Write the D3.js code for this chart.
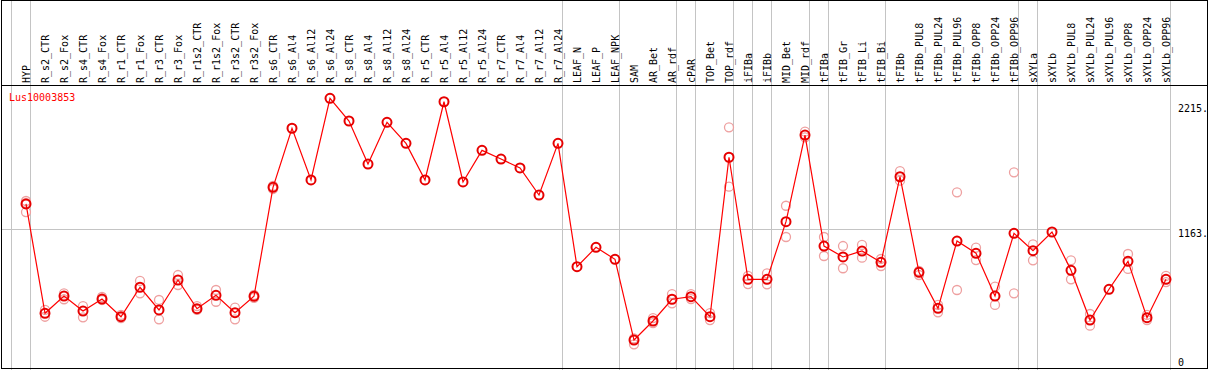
<!DOCTYPE html>
<html>
<head>
<meta charset="utf-8" />
<title>Lus10003853 expression profile</title>
<script src="https://cdn.jsdelivr.net/npm/d3@7"></script>
<style>
  body { margin: 0; padding: 0; background: #fff; }
  svg { display: block; }
  text { font-family: "DejaVu Sans Mono", monospace; font-size: 10px; }
  .frame { stroke: #000; stroke-width: 1; fill: none; shape-rendering: crispEdges; }
  .sep { stroke: #c4c4c4; stroke-width: 1; shape-rendering: crispEdges; }
  .mean-line { stroke: #f00; stroke-width: 1.2; fill: none; }
  .rep { stroke: #eea0a0; stroke-width: 1.3; fill: none; }
  .mean { stroke: #e60000; stroke-width: 2; fill: none; }
</style>
</head>
<body>
<svg id="chart" width="1209" height="370"></svg>
<script>
// sample names, left to right
var samples = ["HYP","R_s2_CTR","R_s2_Fox","R_s4_CTR","R_s4_Fox","R_r1_CTR","R_r1_Fox",
  "R_r3_CTR","R_r3_Fox","R_r1s2_CTR","R_r1s2_Fox","R_r3s2_CTR","R_r3s2_Fox","R_s6_CTR",
  "R_s6_Al4","R_s6_Al12","R_s6_Al24","R_s8_CTR","R_s8_Al4","R_s8_Al12","R_s8_Al24",
  "R_r5_CTR","R_r5_Al4","R_r5_Al12","R_r5_Al24","R_r7_CTR","R_r7_Al4","R_r7_Al12","R_r7_Al24",
  "LEAF_N","LEAF_P","LEAF_NPK","SAM","AR_Bet","AR_rdf","cPAR","TOP_Bet","TOP_rdf",
  "iFIBa","iFIBb","MID_Bet","MID_rdf","tFIBa","tFIB_Gr","tFIB_Li","tFIB_Bi",
  "tFIBb","tFIBb_PUL8","tFIBb_PUL24","tFIBb_PUL96","tFIBb_OPP8","tFIBb_OPP24","tFIBb_OPP96",
  "sXYLa","sXYLb","sXYLb_PUL8","sXYLb_PUL24","sXYLb_PUL96","sXYLb_OPP8","sXYLb_OPP24","sXYLb_OPP96"];

// first sample of each group (a grey separator is drawn before it)
var groupStarts = ["HYP","R_s2_CTR","LEAF_N","SAM","cPAR","TOP_Bet","iFIBa","iFIBb",
  "MID_Bet","tFIBa","tFIB_Gr","tFIBb","sXYLa","sXYLb"];

var geneName = "Lus10003853";

// mean expression per sample
var means = [1372,452,597,471,572,423,671,480,732,491,603,457,595,1512,
  2009,1574,2261,2070,1708,2059,1882,1574,2232,1557,1823,1750,1675,1447,1882,
  844,1007,906,227,387,570,592,423,1765,738,738,1223,1952,1018,926,976,881,
  1601,797,494,1060,957,597,1125,979,1136,814,395,654,889,415,738];

// replicate values (null = hidden under the mean marker)
var rep1 = [1397,480,620,513,589,438,724,564,774,513,648,499,606,1523,
  null,null,null,null,null,null,null,null,null,null,null,null,null,null,null,
  null,null,null,191,412,614,614,454,2017,766,788,1357,1980,1094,1018,1027,909,
  1649,808,522,1470,1004,676,1638,1032,null,898,446,null,951,438,766];
var rep2 = [1304,423,570,418,564,412,620,401,690,480,549,401,581,1498,
  null,null,null,null,null,null,null,null,null,null,null,null,null,null,null,
  null,null,null,240,370,536,572,395,1517,698,696,1094,1933,934,831,920,850,
  1568,774,460,648,900,522,620,898,null,738,348,null,825,395,715];
var rep3 = [1380];

// axis labels on the right
var yTicks = [2215, 1163, 0];
var yMax = 2373;

var svg = d3.select("#chart");
var W = 1209, H = 370;
var headerY = 85, plotBottom = 367, plotRight = 1170;

var x = d3.scaleBand()
    .domain(samples)
    .range([11, plotRight]);
var xc = function(s) { return x(s) + 15; };

var y = d3.scaleLinear()
    .domain([0, yMax])
    .range([plotBottom, headerY]);

// grid line
svg.append("line")
    .attr("class", "sep")
    .attr("x1", 1).attr("x2", plotRight)
    .attr("y1", Math.round(y(yTicks[1])) + 0.5).attr("y2", Math.round(y(yTicks[1])) + 0.5);

// group separators, full height
var seps = groupStarts.map(function(s) { return x(s) - 0.5; }).concat([plotRight]);
svg.selectAll("line.vsep")
    .data(seps)
  .enter().append("line")
    .attr("class", "sep vsep")
    .attr("x1", function(d) { return Math.round(d) + 0.5; })
    .attr("x2", function(d) { return Math.round(d) + 0.5; })
    .attr("y1", 0).attr("y2", H);

// frame
svg.append("rect").attr("class", "frame")
    .attr("x", 1.5).attr("y", 0.5).attr("width", W - 3).attr("height", 367.5);
svg.append("line").attr("class", "frame")
    .attr("x1", 1).attr("x2", W - 1).attr("y1", headerY + 0.5).attr("y2", headerY + 0.5);

// column labels
svg.append("g").selectAll("text")
    .data(samples)
  .enter().append("text")
    .attr("transform", function(d) {
      return "translate(" + (xc(d) + 3.5) + "," + (headerY - 2) + ") rotate(-90)";
    })
    .attr("fill", "#000")
    .text(function(d) { return d; });

// y labels
svg.append("g").selectAll("text")
    .data(yTicks)
  .enter().append("text")
    .attr("x", 1178)
    .attr("y", function(d) { return Math.min(y(d) + 8, 366); })
    .attr("fill", "#000")
    .text(function(d) { return d === 0 ? "0" : d + "."; });

// gene name
svg.append("text")
    .attr("x", 9).attr("y", 101)
    .attr("fill", "#f00")
    .text(geneName);

// replicates
var reps = [];
[rep1, rep2, rep3].forEach(function(arr) {
  arr.forEach(function(v, i) {
    if (v != null) reps.push({ s: samples[i], v: v });
  });
});
svg.append("g").selectAll("circle")
    .data(reps)
  .enter().append("circle")
    .attr("class", "rep")
    .attr("cx", function(d) { return xc(d.s); })
    .attr("cy", function(d) { return y(d.v); })
    .attr("r", 4.5);

// mean line
var line = d3.line()
    .x(function(d, i) { return xc(samples[i]); })
    .y(function(d) { return y(d); });
svg.append("path")
    .attr("class", "mean-line")
    .attr("d", line(means));

// mean markers
svg.append("g").selectAll("circle")
    .data(means)
  .enter().append("circle")
    .attr("class", "mean")
    .attr("cx", function(d, i) { return xc(samples[i]); })
    .attr("cy", function(d) { return y(d); })
    .attr("r", 4.5);
</script>
</body>
</html>
